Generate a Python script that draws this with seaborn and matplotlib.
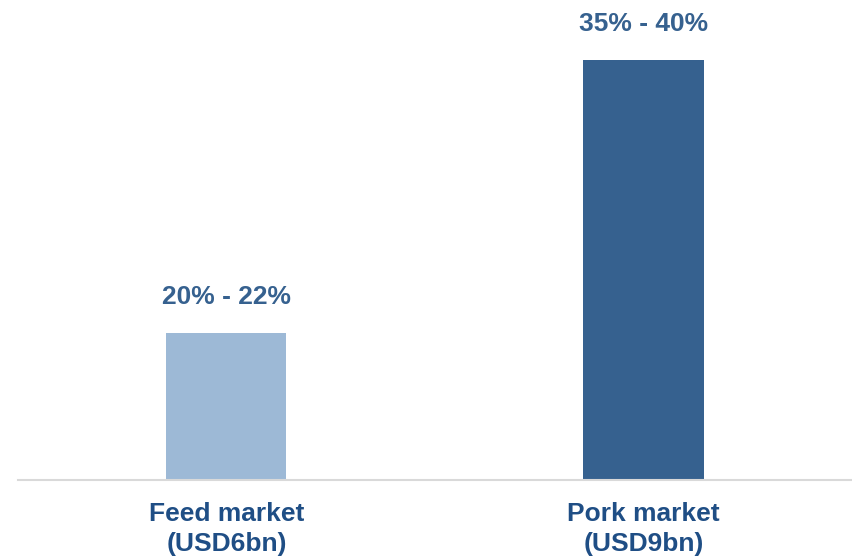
import matplotlib
matplotlib.use("Agg")
import matplotlib.pyplot as plt
import seaborn as sns
import pandas as pd

categories = ["Feed market\n(USD6bn)", "Pork market\n(USD9bn)"]
bar_heights = [35, 100]
value_labels = ["20% - 22%", "35% - 40%"]
colors = ["#9DB9D6", "#36618F"]

df = pd.DataFrame({"cat": categories, "val": bar_heights})

sns.set_theme(style="white")
plt.rcParams['font.family'] = ['Liberation Sans', 'DejaVu Sans']

fig = plt.figure(figsize=(8.52, 5.59), dpi=100)
ax = fig.add_axes([0.021, 1 - 480 / 559, 0.979, 480 / 559])
sns.barplot(data=df, x="cat", y="val", hue="cat", palette=colors, width=0.288,
            legend=False, ax=ax, saturation=1, linewidth=0)

ax.set_xlim(-0.5, 1.5)
ax.set_ylim(0, 114.3)
for s in ["top", "right", "left"]:
    ax.spines[s].set_visible(False)
ax.spines["bottom"].set_color("#D9D9D9")
ax.spines["bottom"].set_linewidth(1.5)
ax.set_yticks([])
ax.set_xlabel("")
ax.set_ylabel("")
ax.tick_params(axis="x", length=0, pad=16)
for t in ax.get_xticklabels():
    t.set_fontsize(19)
    t.set_fontweight("bold")
    t.set_color("#1F4E85")
    t.set_linespacing(1.3)

for i, (h, lab) in enumerate(zip(bar_heights, value_labels)):
    ax.annotate(lab, xy=(i, h), xytext=(0, 26), textcoords="offset points",
                ha="center", va="center", fontsize=19, fontweight="bold",
                color="#36618F", annotation_clip=False)

fig.savefig("out.png", dpi=100)
